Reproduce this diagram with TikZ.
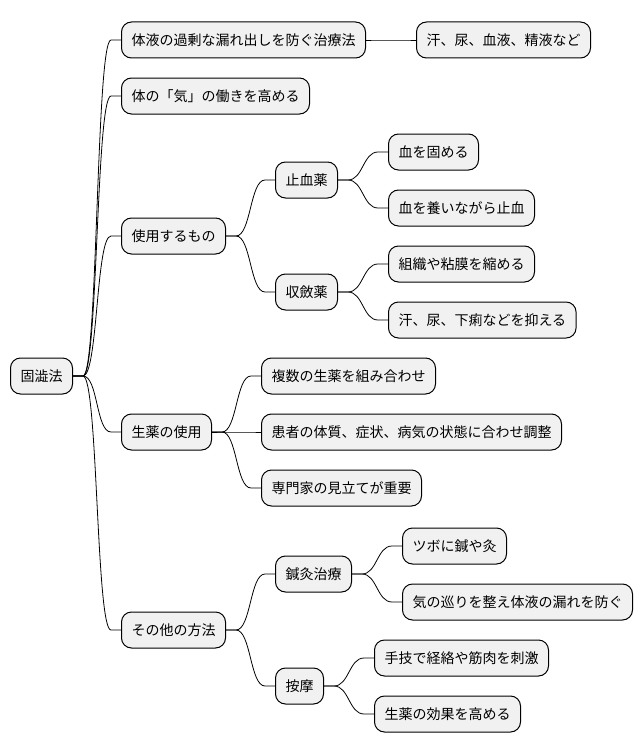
\documentclass[tikz,border=0pt]{standalone}
\usepackage{fontspec}
\setmainfont{Noto Sans CJK JP}
\usepackage{xcolor}
\definecolor{boxgray}{HTML}{F1F1F1}

\begin{document}
\begin{tikzpicture}[x=1pt, y=-1pt,
  box/.style={draw, line width=1pt, rounded corners=10pt, fill=boxgray, minimum height=36pt, inner xsep=10pt, anchor=west, font=\fontsize{14}{16}\selectfont},
  branch/.style={line width=0.8pt, to path={(\tikztostart.east) -- ++(10,0) .. controls +(15,0) and ([xshift=-25pt]\tikztotarget.west) .. ([xshift=-10pt]\tikztotarget.west) -- (\tikztotarget.west)}}
]
\useasboundingbox (0,0) rectangle (642,752);

% Root
\node[box] (root) at (10,376) {固澁法};

% First level
\node[box] (leak) at (121,40) {体液の過剰な漏れ出しを防ぐ治療法};
\node[box] (qi) at (121,96) {体の「気」の働きを高める};
\node[box] (use) at (121,236) {使用するもの};
\node[box] (herb) at (121,432) {生薬の使用};
\node[box] (other) at (121,630) {その他の方法};

% Second level
\node[box] (fluids) at (416,40) {汗、尿、血液、精液など};
\node[box] (hemo) at (275,180) {止血薬};
\node[box] (astr) at (275,292) {収斂薬};
\node[box] (combine) at (261,376) {複数の生薬を組み合わせ};
\node[box] (adjust) at (261,432) {患者の体質、症状、病気の状態に合わせ調整};
\node[box] (expert) at (261,488) {専門家の見立てが重要};
\node[box] (acu) at (275,574) {鍼灸治療};
\node[box] (massage) at (275,686) {按摩};

% Third level
\node[box] (clot) at (388,152) {血を固める};
\node[box] (nourish) at (388,208) {血を養いながら止血};
\node[box] (shrink) at (388,264) {組織や粘膜を縮める};
\node[box] (suppress) at (388,320) {汗、尿、下痢などを抑える};
\node[box] (tsubo) at (402,546) {ツボに鍼や灸};
\node[box] (flow) at (402,602) {気の巡りを整え体液の漏れを防ぐ};
\node[box] (stim) at (374,658) {手技で経絡や筋肉を刺激};
\node[box] (boost) at (374,714) {生薬の効果を高める};

% Branches
\foreach \a/\b in {root/leak, root/qi, root/use, root/herb, root/other,
  leak/fluids, use/hemo, use/astr, herb/combine, herb/adjust, herb/expert,
  other/acu, other/massage, hemo/clot, hemo/nourish, astr/shrink, astr/suppress,
  acu/tsubo, acu/flow, massage/stim, massage/boost}
  \draw[branch] (\a) to (\b);
\end{tikzpicture}
\end{document}
